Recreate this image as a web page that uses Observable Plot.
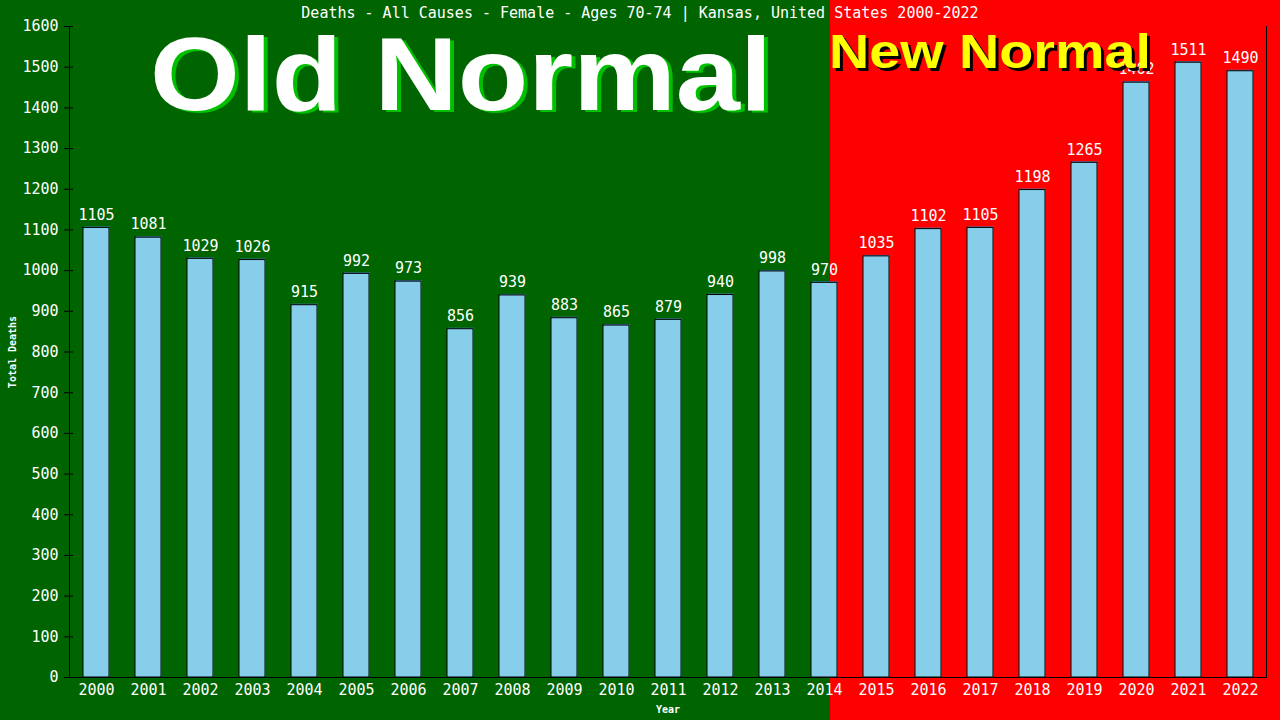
<!DOCTYPE html>
<html>
<head>
<meta charset="utf-8">
<script src="https://cdn.jsdelivr.net/npm/d3@7"></script>
<script src="https://cdn.jsdelivr.net/npm/@observablehq/plot@0.6"></script>
<style>
  html, body { margin: 0; padding: 0; }
  body {
    width: 1280px; height: 720px; overflow: hidden;
    background: linear-gradient(to right, #006400 0px, #006400 830px, #ff0000 830px, #ff0000 1280px);
    position: relative;
  }
  #title {
    position: absolute; left: 0; top: 4px; width: 1280px; text-align: center;
    font-family: "DejaVu Sans Mono", monospace; font-size: 15px; color: #fff; z-index: 2;
  }
  #chart { position: absolute; left: 0; top: 0; }
  #chart svg { background: transparent !important; }
  #chart [aria-label="y-axis label"] text, #chart [aria-label="x-axis label"] text {
    font-size: 10px; font-weight: bold;
  }
</style>
</head>
<body>
<div id="title">Deaths - All Causes - Female - Ages 70-74 | Kansas, United States 2000-2022</div>
<div id="chart"></div>
<script>
const years = ["2000","2001","2002","2003","2004","2005","2006","2007","2008","2009","2010","2011","2012","2013","2014","2015","2016","2017","2018","2019","2020","2021","2022"];
const deaths = [1105,1081,1029,1026,915,992,973,856,939,883,865,879,940,998,970,1035,1102,1105,1198,1265,1462,1511,1490];
const yTicks = [0,100,200,300,400,500,600,700,800,900,1000,1100,1200,1300,1400,1500,1600];

const data = years.map((y, i) => ({year: y, value: deaths[i]}));
const mono = "DejaVu Sans Mono";

const plot = Plot.plot({
  width: 1280,
  height: 720,
  marginLeft: 69,
  marginRight: 14,
  marginTop: 26,
  marginBottom: 43,
  style: {background: "transparent", color: "white", fontFamily: mono, fontSize: "15px"},
  x: {domain: years, paddingInner: 0.5, paddingOuter: 0.25, label: "Year"},
  y: {domain: [0, 1600], label: "Total Deaths"},
  marks: [
    Plot.barY(data, {x: "year", y: "value", fill: "#4682b4", dx: 1, dy: -1}),
    Plot.barY(data, {x: "year", y: "value", fill: "#87ceeb", stroke: "#000", strokeWidth: 1}),
    Plot.text(data, {x: "year", y: "value", text: d => String(d.value), dy: -13, fill: "white", fontFamily: mono, fontSize: 15}),
    Plot.frame({anchor: "left", stroke: "black"}),
    Plot.frame({anchor: "right", stroke: "black"}),
    Plot.frame({anchor: "bottom", stroke: "black", insetLeft: -5}),
    Plot.axisY({ticks: yTicks, tickSize: 9, dx: 4, stroke: "black", tickFormat: () => "", label: null}),
    Plot.axisY({ticks: yTicks, tickSize: 0, tickPadding: 11, tickFormat: d => String(d), fill: "white", fontFamily: mono, fontSize: 15,
      label: "Total Deaths", labelAnchor: "center", labelArrow: "none", labelOffset: 61}),
    Plot.axisX({tickSize: 0, tickPadding: 7, fill: "white", fontFamily: mono, fontSize: 15, label: "Year", labelAnchor: "center", labelArrow: "none", labelOffset: 35})
  ]
});
document.getElementById("chart").appendChild(plot);

const svg = d3.select(plot);
function bigText(txt, cx, baseline, size, len, fill, shadow, sdx, sdy) {
  const g = svg.append("g").attr("font-family", "Liberation Sans, Arial, sans-serif").attr("font-weight", "bold").attr("font-size", size).attr("text-anchor", "middle");
  g.append("text").attr("x", cx + sdx).attr("y", baseline + sdy).attr("fill", shadow)
    .attr("textLength", len).attr("lengthAdjust", "spacingAndGlyphs").text(txt);
  g.append("text").attr("x", cx).attr("y", baseline).attr("fill", fill)
    .attr("textLength", len).attr("lengthAdjust", "spacingAndGlyphs").text(txt);
}
bigText("Old Normal", 461, 110, 104, 622, "white", "#00c000", 4, 2);
bigText("New Normal", 990, 68, 49, 322, "#ffff00", "#000000", 3, 3);
</script>
</body>
</html>
